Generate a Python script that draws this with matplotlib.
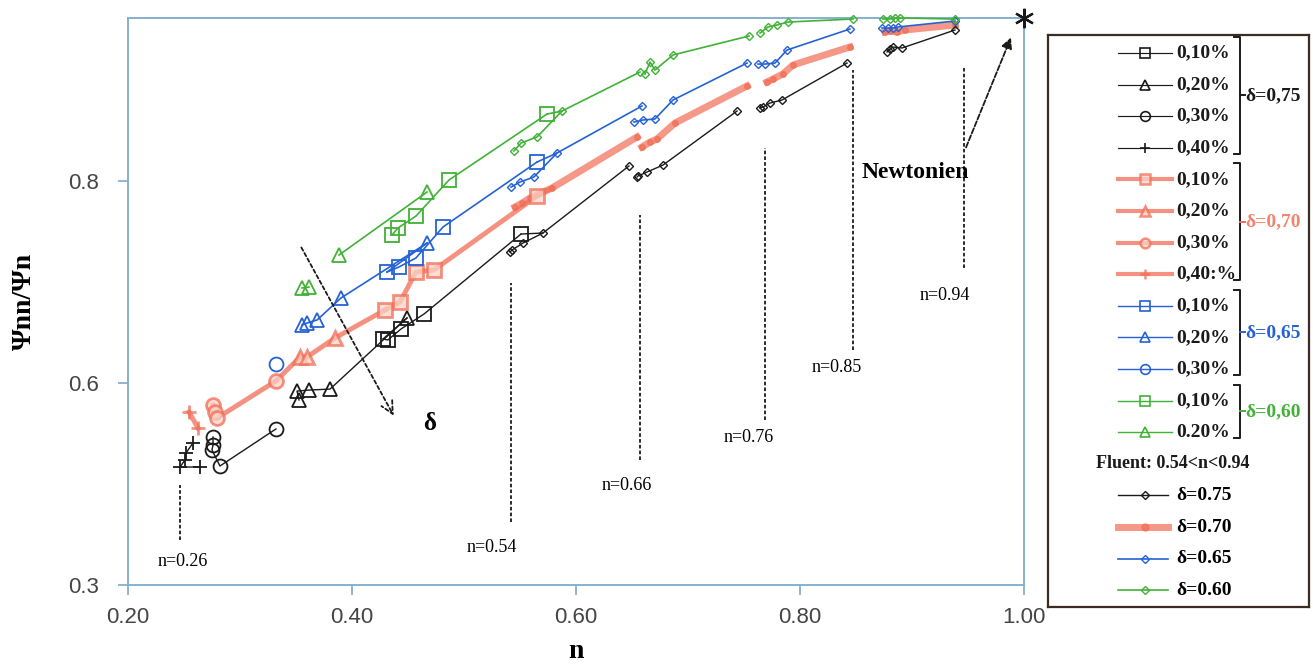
import numpy as np
import matplotlib
matplotlib.use("Agg")
import matplotlib.pyplot as plt

plt.rcParams["font.family"] = ["Liberation Serif", "DejaVu Serif"]

nan = np.nan

# Experimental points, delta = 0.75 (black)
n_075_c010 = [0.4277, 0.4320, 0.4438, 0.4643, 0.5509]
psi_075_c010 = [0.6436, 0.6426, 0.6535, 0.6683, 0.7475]
n_075_c020 = [0.3527, 0.3509, 0.3616, 0.3804, 0.4491]
psi_075_c020 = [0.5832, 0.5920, 0.5930, 0.5940, 0.6644]
n_075_c030 = [0.2759, 0.2759, 0.2750, 0.2821, 0.3321]
psi_075_c030 = [0.5465, 0.5386, 0.5337, 0.5178, 0.5545]
n_075_c040 = [0.2643, 0.2464, 0.2509, 0.2518, 0.2580]
psi_075_c040 = [0.5168, 0.5168, 0.5238, 0.5307, 0.5406]

# delta = 0.70 (salmon)
n_070_c010 = [0.4295, 0.4429, 0.4571, 0.4732, 0.5652]
psi_070_c010 = [0.6723, 0.6802, 0.7099, 0.7119, 0.7851]
n_070_c020 = [0.3536, 0.3598, 0.3848]
psi_070_c020 = [0.6257, 0.6257, 0.6446]
n_070_c030 = [0.2759, 0.2777, 0.2795, 0.3321]
psi_070_c030 = [0.5782, 0.5713, 0.5653, 0.6020]
n_070_c040 = [0.2545, 0.2625]
psi_070_c040 = [0.5713, 0.5554]

# delta = 0.65 (blue)
n_065_c010 = [0.4313, 0.4420, 0.4571, 0.4813, 0.5652]
psi_065_c010 = [0.7099, 0.7149, 0.7238, 0.7545, 0.8188]
n_065_c020 = [0.3554, 0.3598, 0.3688, 0.3902, 0.4670]
psi_065_c020 = [0.6574, 0.6594, 0.6624, 0.6842, 0.7386]
n_065_c030 = [0.3321]
psi_065_c030 = [0.6188]

# delta = 0.60 (green)
n_060_c010 = [0.4357, 0.4411, 0.4571, 0.4866, 0.5741]
psi_060_c010 = [0.7465, 0.7535, 0.7653, 0.8010, 0.8663]
n_060_c020 = [0.3554, 0.3616, nan, 0.3884, 0.4670]
psi_060_c020 = [0.6941, 0.6950, nan, 0.7267, 0.7891]

# Fluent results, one cluster per fluid (n ~ 0.54, 0.66, 0.76, 0.85, 0.94)
fluent_n_075 = [0.5411, 0.5429, 0.5527, 0.5705, 0.6473, nan,
                0.6545, 0.6554, 0.6634, 0.6777, 0.7438, nan,
                0.7643, 0.7670, 0.7732, 0.7839, 0.8420, nan,
                0.8777, 0.8804, 0.8830, 0.8911, 0.9384]
fluent_psi_075 = [0.7297, 0.7317, 0.7386, 0.7485, 0.8149, nan,
                  0.8040, 0.8050, 0.8089, 0.8158, 0.8693, nan,
                  0.8723, 0.8733, 0.8772, 0.8802, 0.9168, nan,
                  0.9277, 0.9307, 0.9327, 0.9317, 0.9495]
fluent_n_070 = [0.5455, 0.5518, 0.5589, 0.5786, 0.6545, nan,
                0.6589, 0.6661, 0.6723, 0.6884, 0.7527, nan,
                0.7705, 0.7759, 0.7848, 0.7938, 0.8446, nan,
                0.8759, 0.8804, 0.8866, 0.8938, 0.9384]
fluent_psi_070 = [0.7743, 0.7782, 0.7832, 0.7931, 0.8436, nan,
                  0.8337, 0.8386, 0.8416, 0.8574, 0.8941, nan,
                  0.8980, 0.9010, 0.9060, 0.9149, 0.9327, nan,
                  0.9475, 0.9485, 0.9475, 0.9495, 0.9545]
fluent_n_065 = [0.5420, 0.5500, 0.5625, 0.5830, 0.6589, nan,
                0.6518, 0.6598, 0.6705, 0.6866, 0.7527, nan,
                0.7625, 0.7688, 0.7777, 0.7884, 0.8446, nan,
                0.8732, 0.8786, 0.8830, 0.8875, 0.9384]
fluent_psi_065 = [0.7940, 0.7990, 0.8040, 0.8277, 0.8743, nan,
                  0.8584, 0.8604, 0.8614, 0.8802, 0.9168, nan,
                  0.9158, 0.9158, 0.9168, 0.9297, 0.9505, nan,
                  0.9515, 0.9515, 0.9515, 0.9525, 0.9584]
fluent_n_060 = [0.5446, 0.5509, 0.5652, 0.5875, 0.6571, nan,
                0.6616, 0.6661, 0.6705, 0.6866, 0.7545, nan,
                0.7643, 0.7714, 0.7795, 0.7893, 0.8473, nan,
                0.8741, 0.8804, 0.8848, 0.8893, 0.9384]
fluent_psi_060 = [0.8297, 0.8376, 0.8436, 0.8693, 0.9079, nan,
                  0.9059, 0.9178, 0.9099, 0.9248, 0.9436, nan,
                  0.9465, 0.9525, 0.9545, 0.9574, 0.9604, nan,
                  0.9604, 0.9604, 0.9614, 0.9614, 0.9604]

# Vertical marks for the simulated fluids
mark_labels = ["n=0.26", "n=0.54", "n=0.66", "n=0.76", "n=0.85", "n=0.94"]
mark_n = [0.2464, 0.5420, 0.6570, 0.7690, 0.8470, 0.9460]
mark_top = [0.4990, 0.6990, 0.7663, 0.8327, 0.9099, 0.9119]
mark_bottom = [0.4446, 0.4624, 0.5238, 0.5634, 0.6327, 0.7139]
mark_label_n = [0.2491, 0.5250, 0.6455, 0.7545, 0.8330, 0.9295]
mark_label_psi = [0.4228, 0.4376, 0.4990, 0.5465, 0.6149, 0.6871]

conc_labels_075 = ["0,10%", "0,20%", "0,30%", "0,40%"]
conc_labels_070 = ["0,10%", "0,20%", "0,30%", "0,40:%"]
conc_labels_065 = ["0,10%", "0,20%", "0,30%"]
conc_labels_060 = ["0,10%", "0.20%"]

BLACK = "#1a1a1a"
SALMON = "#f26d55"
BLUE = "#2563d4"
GREEN = "#40b236"

exp_groups = [
    ("δ=0,75", BLACK, 1.0, 1.0, conc_labels_075,
     [(n_075_c010, psi_075_c010, "s"), (n_075_c020, psi_075_c020, "^"),
      (n_075_c030, psi_075_c030, "o"), (n_075_c040, psi_075_c040, "+")]),
    ("δ=0,70", SALMON, 3.5, 0.75, conc_labels_070,
     [(n_070_c010, psi_070_c010, "s"), (n_070_c020, psi_070_c020, "^"),
      (n_070_c030, psi_070_c030, "o"), (n_070_c040, psi_070_c040, "+")]),
    ("δ=0,65", BLUE, 1.2, 1.0, conc_labels_065,
     [(n_065_c010, psi_065_c010, "s"), (n_065_c020, psi_065_c020, "^"),
      (n_065_c030, psi_065_c030, "o")]),
    ("δ=0,60", GREEN, 1.2, 1.0, conc_labels_060,
     [(n_060_c010, psi_060_c010, "s"), (n_060_c020, psi_060_c020, "^")]),
]

fluent_groups = [
    ("δ=0.75", BLACK, 1.0, 1.0, fluent_n_075, fluent_psi_075),
    ("δ=0.70", SALMON, 5.0, 0.7, fluent_n_070, fluent_psi_070),
    ("δ=0.65", BLUE, 1.2, 1.0, fluent_n_065, fluent_psi_065),
    ("δ=0.60", GREEN, 1.2, 1.0, fluent_n_060, fluent_psi_060),
]

# series chained together by a line (last point of one -> a point of the next)
chains = [
    (n_075_c020, psi_075_c020, n_075_c010, psi_075_c010, 0, BLACK, 1.0, 1.0),
    (n_075_c010, psi_075_c010, fluent_n_075, fluent_psi_075, 3, BLACK, 1.0, 1.0),
    (n_070_c030, psi_070_c030, n_070_c020, psi_070_c020, 0, SALMON, 3.5, 0.75),
    (n_070_c020, psi_070_c020, n_070_c010, psi_070_c010, 0, SALMON, 3.5, 0.75),
    (n_070_c010, psi_070_c010, fluent_n_070, fluent_psi_070, 3, SALMON, 3.5, 0.75),
    (n_065_c020, psi_065_c020, n_065_c010, psi_065_c010, 0, BLUE, 1.2, 1.0),
    (n_065_c010, psi_065_c010, fluent_n_065, fluent_psi_065, 3, BLUE, 1.2, 1.0),
    (n_060_c010, psi_060_c010, fluent_n_060, fluent_psi_060, 3, GREEN, 1.2, 1.0),
]

fig = plt.figure(figsize=(13.13, 6.70), dpi=100)
ax = fig.add_axes([128 / 1313, 85 / 670, 896 / 1313, 567 / 670])

for xa, ya, xb, yb, ib, color, lw, alpha in chains:
    ax.plot([xa[-1], xb[ib]], [ya[-1], yb[ib]], color=color, lw=lw, alpha=alpha, zorder=2)

for label, color, lw, alpha, concs, series in exp_groups:
    for xs, ys, marker in series:
        if color == SALMON:
            ax.plot(xs, ys, color=color, lw=lw, alpha=alpha, marker=marker, ms=10,
                    mfc="#fbd3c8", mec=color, mew=2.0, zorder=3)
        else:
            ax.plot(xs, ys, color=color, lw=lw, alpha=alpha, marker=marker, ms=10,
                    mfc="none", mec=color, mew=1.3, zorder=3)

for label, color, lw, alpha, xs, ys in fluent_groups:
    if color == SALMON:
        ax.plot(xs, ys, color=color, lw=lw, alpha=alpha, marker="o", ms=4,
                mfc=color, mec=color, zorder=2, clip_on=False)
    else:
        ax.plot(xs, ys, color=color, lw=lw, alpha=alpha, marker="D", ms=4,
                mfc="none", mec=color, mew=1.0, zorder=3, clip_on=False)

# dotted vertical marks with their labels
for lab, x, top, bot, lx, ly in zip(mark_labels, mark_n, mark_top, mark_bottom,
                                    mark_label_n, mark_label_psi):
    ax.plot([x, x], [bot, top], color=BLACK, lw=1.3, ls=(0, (2, 1.2)), zorder=1)
    ax.text(lx, ly, lab, ha="center", va="center", fontsize=13)

# delta direction arrow
ax.annotate("", xy=(0.4384, 0.5653), xytext=(0.3536, 0.7366),
            arrowprops=dict(arrowstyle="->", color=BLACK, lw=1.3, ls=(0, (2, 1.5)),
                            mutation_scale=22))
ax.text(0.4696, 0.5604, "δ", fontsize=18, fontweight="bold", ha="center", va="center")

# Newtonian point
ax.plot([1.0], [0.9614], marker=(6, 2, 0), ms=14, mew=1.6, color=BLACK, clip_on=False, zorder=5)
ax.annotate("", xy=(0.9893, 0.9446), xytext=(0.9473, 0.8307),
            arrowprops=dict(arrowstyle="-|>", color=BLACK, lw=1.3, ls=(0, (3, 1.2)),
                            mutation_scale=16))
ax.text(0.9027, 0.8089, "Newtonien", fontsize=17, fontweight="bold", ha="center", va="center")

ax.set_xlim(0.2, 1.0)
ax.set_ylim(0.4, 0.9614)
ax.set_xticks([0.2, 0.4, 0.6, 0.8, 1.0])
ax.set_xticklabels(["0.20", "0.40", "0.60", "0.80", "1.00"])
ax.set_yticks([0.4, 0.6, 0.8])
ax.set_yticklabels(["0.3", "0.6", "0.8"])
for lab in ax.get_xticklabels() + ax.get_yticklabels():
    lab.set_fontfamily("Liberation Sans")
    lab.set_fontsize(16)
    lab.set_color("#454545")
ax.tick_params(axis="x", length=7, width=1.2, color="#7fa9c8", pad=9)
ax.tick_params(axis="y", length=7, width=1.2, color="#7fa9c8", pad=14)
for sp in ax.spines.values():
    sp.set_color("#86b0d0")
    sp.set_linewidth(1.4)
ax.set_xlabel("n", fontsize=20, fontweight="bold", labelpad=8)
ax.set_ylabel("Ψnn/Ψn", fontsize=20, fontweight="bold", labelpad=22)

# Legend panel, laid out in pixel units
lax = fig.add_axes([1048 / 1313, 63 / 670, 261 / 1313, 572 / 670])
lax.set_xlim(1048, 1309)
lax.set_ylim(607, 35)
lax.set_xticks([])
lax.set_yticks([])
for sp in lax.spines.values():
    sp.set_color("#3b2b22")
    sp.set_linewidth(1.6)

row_y = 53.0
row_step = 31.6
for label, color, lw, alpha, concs, series in exp_groups:
    first_row = row_y
    for (xs, ys, marker), conc in zip(series, concs):
        lax.plot([1118, 1172], [row_y, row_y], color=color, lw=lw * 0.85, alpha=alpha)
        lax.plot([1145], [row_y], marker=marker, ms=7, mec=color, alpha=alpha,
                 mfc="none" if color != SALMON else "#fbd3c8",
                 mew=1.2 if color != SALMON else 1.8)
        lax.text(1176, row_y, conc, fontsize=14, fontweight="bold",
                 va="center", ha="left", color=BLACK)
        last_row = row_y
        row_y += row_step
    top, bot = first_row - 16, last_row + 6
    lax.plot([1234, 1240, 1240, 1234], [top, top, bot, bot], color=BLACK, lw=1.4)
    mid = (top + bot) / 2
    lax.plot([1240, 1245], [mid, mid], color=color, lw=1.4)
    lax.text(1245, mid, label, fontsize=14, fontweight="bold", va="center", ha="left",
             color=color, alpha=1.0 if color != SALMON else 0.85)

lax.text(1173, row_y, "Fluent: 0.54<n<0.94", fontsize=13, fontweight="bold",
         va="center", ha="center", color=BLACK)
row_y += row_step
for label, color, lw, alpha, xs, ys in fluent_groups:
    lax.plot([1118, 1168], [row_y, row_y], color=color, lw=lw, alpha=alpha)
    if color == SALMON:
        lax.plot([1145], [row_y], marker="o", ms=5, color=color, alpha=alpha)
    else:
        lax.plot([1145], [row_y], marker="D", ms=4, mfc="none", mec=color)
    lax.text(1176, row_y, label, fontsize=14, fontweight="bold", va="center", ha="left")
    row_y += row_step

fig.savefig("out.png", dpi=100)
